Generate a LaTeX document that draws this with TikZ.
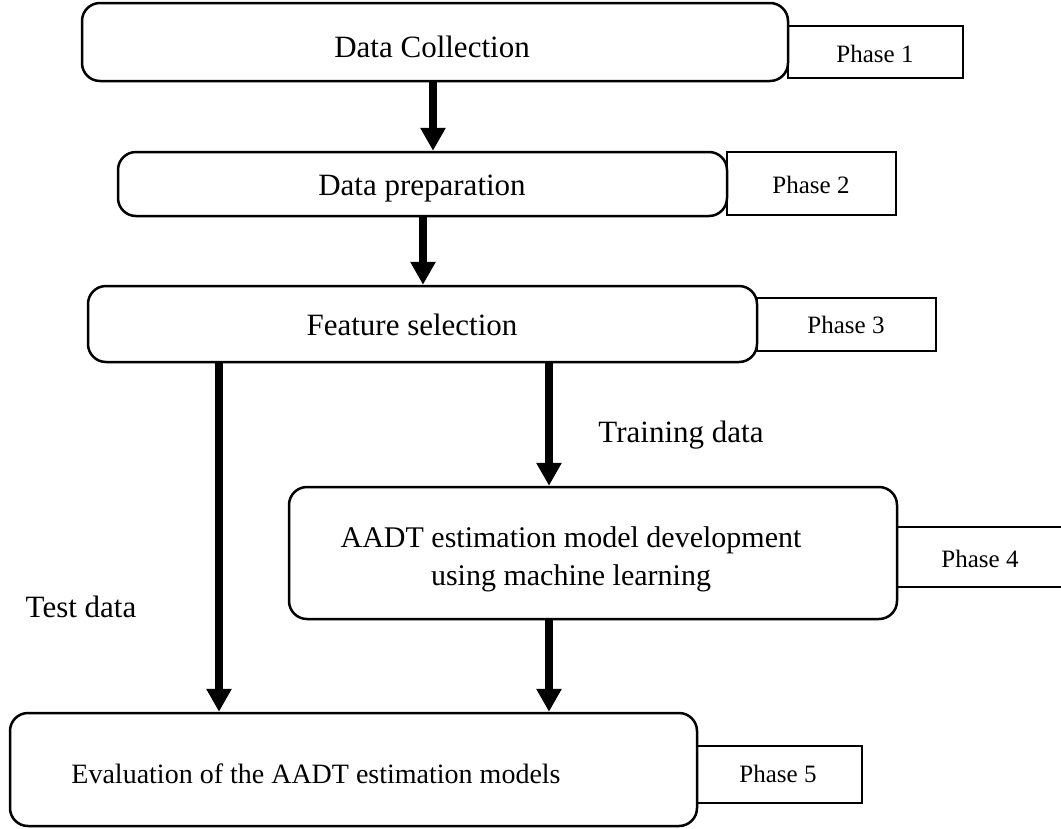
\documentclass[tikz,border=0pt]{standalone}
\usepackage{fontspec}
\setmainfont{Liberation Serif}
\usetikzlibrary{arrows.meta}
\begin{document}
\begin{tikzpicture}[x=1pt,y=-1pt,
  stagebox/.style={draw=black,line width=2.5pt,rounded corners=18pt,inner sep=0pt},
  phasebox/.style={draw=black,line width=2.5pt,inner sep=0pt},
  bigtxt/.style={anchor=base,inner sep=0pt,font=\fontsize{31}{38}\selectfont},
  phasetxt/.style={anchor=base,inner sep=0pt,font=\fontsize{25}{30}\selectfont},
  flow/.style={line width=8pt,-{Triangle[width=24pt,length=23pt]}}]
\useasboundingbox (0,0) rectangle (1061,828);
% stage boxes
\node[stagebox,minimum width=706pt,minimum height=78pt] (b1) at (435,42) {};
\node[stagebox,minimum width=609pt,minimum height=64pt] (b2) at (422.5,184) {};
\node[stagebox,minimum width=669pt,minimum height=76pt] (b3) at (422.5,324) {};
\node[stagebox,minimum width=608pt,minimum height=132pt] (b4) at (593,553) {};
\node[stagebox,minimum width=687pt,minimum height=113pt] (b5) at (353.5,769.5) {};
% phase boxes
\node[phasebox,minimum width=175pt,minimum height=52pt] (p1) at (875.5,52) {};
\node[phasebox,minimum width=169pt,minimum height=63pt] (p2) at (811.5,183.5) {};
\node[phasebox,minimum width=179pt,minimum height=53pt] (p3) at (846.5,324.5) {};
\node[phasebox,minimum width=168pt,minimum height=60pt] (p4) at (981,557) {};
\node[phasebox,minimum width=165pt,minimum height=57pt] (p5) at (779.5,774.5) {};
% texts
\node[bigtxt] (t1) at (432,57) {Data Collection};
\node[bigtxt] (t2) at (422,195) {Data preparation};
\node[bigtxt] (t3) at (412,335) {Feature selection};
\node[bigtxt,font=\fontsize{30}{38}\selectfont] (t4a) at (571,547) {AADT estimation model development};
\node[bigtxt,font=\fontsize{30}{38}\selectfont] (t4b) at (571,585) {using machine learning};
\node[bigtxt,font=\fontsize{28}{34}\selectfont] (t5) at (316,783) {Evaluation of the AADT estimation models};
\node[bigtxt] (ttrain) at (681,442) {Training data};
\node[bigtxt] (ttest) at (81,617) {Test data};
\node[phasetxt] (q1) at (875,62) {Phase 1};
\node[phasetxt] (q2) at (811,193) {Phase 2};
\node[phasetxt] (q3) at (846,333) {Phase 3};
\node[phasetxt] (q4) at (980,567) {Phase 4};
\node[phasetxt] (q5) at (778,782) {Phase 5};
% arrow columns
\coordinate (xa) at (433,0);
\coordinate (xb) at (423,0);
\coordinate (xc) at (219,0);
\coordinate (xd) at (549,0);
\draw[flow] (xa |- b1.south) -- (xa |- b2.north);
\draw[flow] (xb |- b2.south) -- (xb |- b3.north);
\draw[flow] (xc |- b3.south) -- (xc |- b5.north);
\draw[flow] (xd |- b3.south) -- (xd |- b4.north);
\draw[flow] (xd |- b4.south) -- (xd |- b5.north);
\end{tikzpicture}
\end{document}
